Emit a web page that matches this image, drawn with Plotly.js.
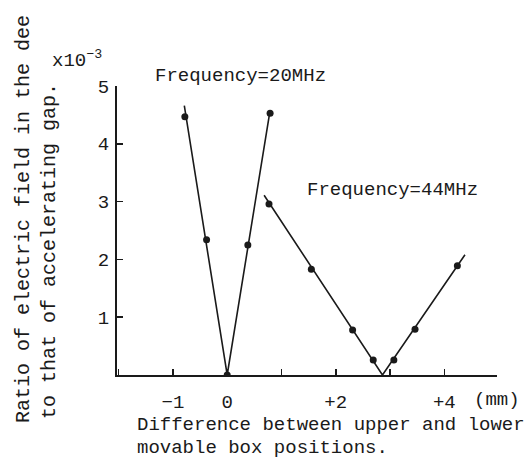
<!DOCTYPE html>
<html>
<head>
<meta charset="utf-8">
<script src="https://cdn.plot.ly/plotly-3.0.1.min.js"></script>
<style>html,body{margin:0;padding:0;background:#fff;}#chart{width:532px;height:469px;}</style>
</head>
<body>
<div id="chart"></div>
<script>
// Measured points (x in mm, y in units of 1e-3)
const x20 = [-0.78, -0.38, 0, 0.38, 0.79];
const y20 = [4.47, 2.34, 0, 2.25, 4.53];
const x44 = [0.77, 1.55, 2.31, 2.69, 3.07, 3.46, 4.24];
const y44 = [2.96, 1.83, 0.78, 0.26, 0.26, 0.79, 1.89];
// Fitted V-lines drawn through the data
const fit20x = [-0.79, 0, 0.79];
const fit20y = [4.66, 0, 4.58];
const fit44x = [0.68, 2.86, 4.38];
const fit44y = [3.11, 0, 2.08];
// Tick labels
const xTickVals = [-1, 0, 2, 4];
const xTickText = ['\u22121', '0', '+2', '+4'];
const xMinorStep = 1;
const yTickVals = [1, 2, 3, 4, 5];
const yTickText = ['1', '2', '3', '4', '5'];

const FONT = '"Liberation Mono", "DejaVu Sans Mono", monospace';
const ink = '#1a1a1a';

const traces = [
  {x: fit20x, y: fit20y, mode: 'lines', line: {color: ink, width: 1.6}, hoverinfo: 'skip'},
  {x: fit44x, y: fit44y, mode: 'lines', line: {color: ink, width: 1.6}, hoverinfo: 'skip'},
  {x: x20, y: y20, mode: 'markers', marker: {color: ink, size: 7}},
  {x: x44, y: y44, mode: 'markers', marker: {color: ink, size: 7}}
];

const ann = (text, x, y, extra) => Object.assign({
  text: text, x: x, y: y, xref: 'paper', yref: 'paper', showarrow: false,
  xanchor: 'center', yanchor: 'middle', font: {family: FONT, size: 19, color: ink}
}, extra || {});

const layout = {
  width: 532, height: 469,
  margin: {l: 117, r: 35, t: 86, b: 94},
  paper_bgcolor: '#fff', plot_bgcolor: '#fff',
  showlegend: false,
  font: {family: FONT, size: 19, color: ink},
  xaxis: {
    range: [-2.03, 4.97], showgrid: false, zeroline: false,
    showline: true, linecolor: ink, linewidth: 2,
    ticks: 'inside', ticklen: 6, tickwidth: 1.5, tickcolor: ink,
    tickmode: 'array', tickvals: xTickVals, ticktext: xTickText, ticklabelstandoff: 8,
    minor: {tickmode: 'linear', tick0: 0, dtick: xMinorStep, ticks: 'inside', ticklen: 6, tickwidth: 1.5, tickcolor: ink, showgrid: false},
    tickfont: {family: FONT, size: 19, color: ink}
  },
  yaxis: {
    range: [0, 5], showgrid: false, zeroline: false,
    showline: true, linecolor: ink, linewidth: 2,
    ticks: 'inside', ticklen: 6, tickwidth: 1.5, tickcolor: ink,
    tickmode: 'array', tickvals: yTickVals, ticktext: yTickText, ticklabelstandoff: 2,
    tickfont: {family: FONT, size: 19, color: ink}
  },
  annotations: [
    ann('Frequency=20MHz', 0.3237, 1.0346),
    ann('Frequency=44MHz', 0.7263, 0.640),
    ann('x10<sup>\u22123</sup>', -0.176, 1.09, {xanchor: 'left'}),
    ann('(mm)', 1.0, -0.0865),
    ann('Difference between upper and lower', 0.047, -0.173, {xanchor: 'left'}),
    ann('movable box positions.', 0.047, -0.2526, {xanchor: 'left'}),
    ann('Ratio of electric field in the dee', -0.2447, 0.540, {textangle: -90, font: {family: FONT, size: 20, color: ink}}),
    ann('to that of accelerating gap.', -0.179, 0.429, {textangle: -90, font: {family: FONT, size: 20, color: ink}})
  ]
};

Plotly.newPlot('chart', traces, layout, {staticPlot: true, displayModeBar: false});
</script>
</body>
</html>
